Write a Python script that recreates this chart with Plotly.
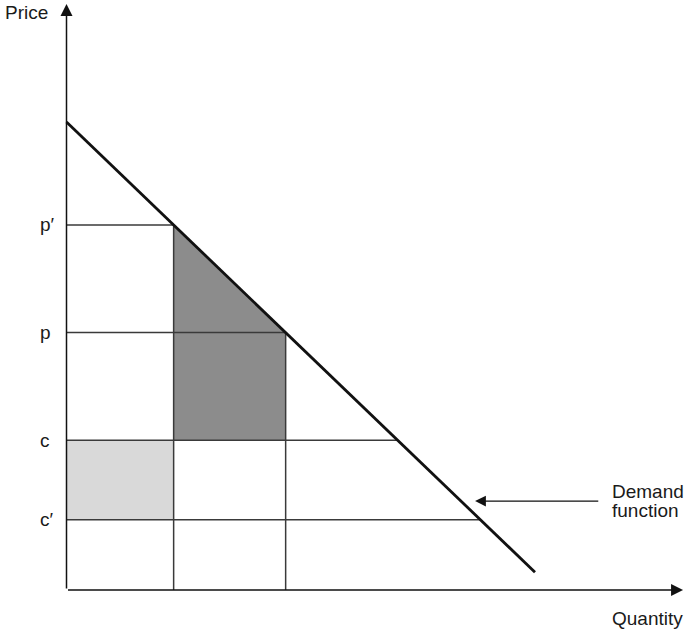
import plotly.graph_objects as go

# ---- data (arbitrary economic units) ----
demand_intercept = 10.0          # price at zero quantity
demand_slope = 1.0               # price drop per unit of quantity
demand_q = [0.0, 9.62]           # drawn extent of the demand line
quantity_marks = [2.2, 4.5]      # the two output levels
price_labels = ["p′", "p", "c", "c′"]
price_values = [7.8, 5.5, 3.2, 1.5]
axis_max_q = 12.66
axis_max_p = 12.52
label_q = -0.585
arrow_tip = (8.39, 1.90)
arrow_tail_q = 10.95

PX_X, PX_Y = 48.7, 46.8           # pixels per unit
ORIGIN_X, ORIGIN_Y = 66.5, 590.0  # origin inside the figure, pixels
FIG_W, FIG_H = 685, 629


def demand_price(q):
    return demand_intercept - demand_slope * q


def demand_quantity(p):
    return (demand_intercept - p) / demand_slope


pp, p, c, cp = price_values
q1, q2 = quantity_marks

fig = go.Figure()

# dark shaded area (between c and the demand curve, q1..q2)
fig.add_trace(go.Scatter(
    x=[q1, q1, q2, q2, q1],
    y=[c, demand_price(q1), demand_price(q2), c, c],
    fill="toself", fillcolor="#8c8c8c", mode="none", hoverinfo="skip"))
# light shaded area (0..q1 between c' and c)
fig.add_trace(go.Scatter(
    x=[0, 0, q1, q1, 0],
    y=[cp, c, c, cp, cp],
    fill="toself", fillcolor="#d9d9d9", mode="none", hoverinfo="skip"))

# horizontal price lines from the axis to the demand curve
for pv in price_values:
    fig.add_trace(go.Scatter(
        x=[0, demand_quantity(pv)], y=[pv, pv], mode="lines",
        line=dict(color="#3a3a3a", width=1.5), hoverinfo="skip"))
# vertical quantity lines from the axis to the demand curve
for qv in quantity_marks:
    fig.add_trace(go.Scatter(
        x=[qv, qv], y=[0, demand_price(qv)], mode="lines",
        line=dict(color="#3a3a3a", width=1.5), hoverinfo="skip"))

# demand line
fig.add_trace(go.Scatter(
    x=demand_q, y=[demand_price(q) for q in demand_q], mode="lines",
    line=dict(color="#111111", width=2.8), hoverinfo="skip"))

font = dict(family="Liberation Sans, Arial, sans-serif", size=19, color="#1a1a1a")

annotations = []
# axes with arrowheads
annotations.append(dict(x=0, y=axis_max_p, ax=0, ay=0, xref="x", yref="y",
                        axref="x", ayref="y", text="", showarrow=True,
                        arrowhead=2, arrowsize=1.6, arrowwidth=1.5,
                        arrowcolor="#111111", standoff=0))
annotations.append(dict(x=axis_max_q, y=0, ax=0, ay=0, xref="x", yref="y",
                        axref="x", ayref="y", text="", showarrow=True,
                        arrowhead=2, arrowsize=1.6, arrowwidth=1.5,
                        arrowcolor="#111111", standoff=0))
# pointer to demand function
annotations.append(dict(x=arrow_tip[0], y=arrow_tip[1], ax=arrow_tail_q, ay=arrow_tip[1],
                        xref="x", yref="y", axref="x", ayref="y", text="",
                        showarrow=True, arrowhead=2, arrowsize=1.8, arrowwidth=1.2,
                        arrowcolor="#111111", standoff=0))

# price labels
for lab, pv in zip(price_labels, price_values):
    annotations.append(dict(x=label_q, y=pv, xref="x", yref="y", text=lab,
                            showarrow=False, xanchor="left", yanchor="middle", font=font))

annotations.append(dict(x=-1.30, y=12.33, xref="x", yref="y", text="Price",
                        showarrow=False, xanchor="left", yanchor="middle", font=font))
annotations.append(dict(x=11.16, y=2.105, xref="x", yref="y", text="Demand",
                        showarrow=False, xanchor="left", yanchor="middle", font=font))
annotations.append(dict(x=11.16, y=1.70, xref="x", yref="y", text="function",
                        showarrow=False, xanchor="left", yanchor="middle", font=font))
annotations.append(dict(x=11.16, y=-0.61, xref="x", yref="y", text="Quantity",
                        showarrow=False, xanchor="left", yanchor="middle", font=font))

fig.update_layout(
    width=FIG_W, height=FIG_H,
    margin=dict(l=0, r=0, t=0, b=0),
    paper_bgcolor="white", plot_bgcolor="white",
    showlegend=False,
    xaxis=dict(range=[-ORIGIN_X / PX_X, (FIG_W - ORIGIN_X) / PX_X],
               visible=False, fixedrange=True),
    yaxis=dict(range=[(ORIGIN_Y - FIG_H) / PX_Y, ORIGIN_Y / PX_Y],
               visible=False, fixedrange=True),
    annotations=annotations,
)

fig.write_html("out.html",
               config={"displayModeBar": False},
               post_script="document.body.style.margin='0';"
                           "document.body.style.overflow='hidden';")
